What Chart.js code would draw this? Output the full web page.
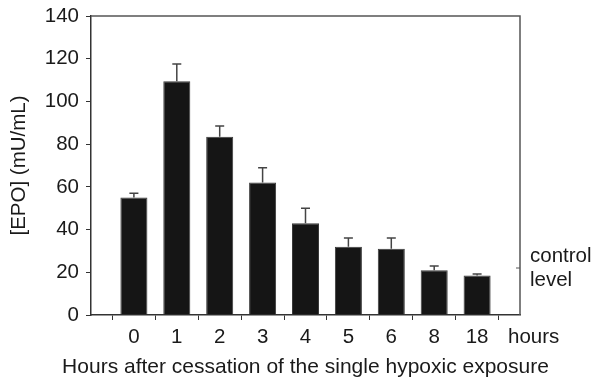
<!DOCTYPE html>
<html lang="en">
<head>
    <meta charset="UTF-8">
    <title>EPO after hypoxic exposure</title>
    <script src="https://cdn.jsdelivr.net/npm/chart.js@4"></script>
    <style>
        body {
            margin: 0;
            background-color: #fff;
        }
        #epoChart {
            display: block;
        }
    </style>
</head>
<body>
    <canvas id="epoChart" width="595" height="377"></canvas>

    <script>
        // values
        const hours = ['0', '1', '2', '3', '4', '5', '6', '8', '18'];
        const epoMean = [55, 109.5, 83.5, 62, 43, 32, 31, 21, 18.5];
        const epoError = [2, 8, 5, 7, 7, 4, 5, 2, 0.7];
        const controlLevel = 22;
        const yTicks = [0, 20, 40, 60, 80, 100, 120, 140];
        const xTitle = 'Hours after cessation of the single hypoxic exposure';

        const fontFamily = "'Liberation Sans', Arial, Helvetica, sans-serif";

        // empty slot at both ends so the bars sit on the ticks
        const labels = ['', ...hours, ''];
        const barData = [null, ...epoMean, null];
        const errData = [null, ...epoError, null];

        const errorBars = {
            id: 'errorBars',
            afterDatasetsDraw(chart) {
                const ctx = chart.ctx;
                const x = chart.scales.x;
                const y = chart.scales.y;
                ctx.save();
                ctx.strokeStyle = '#444';
                ctx.lineWidth = 1.5;
                barData.forEach((v, i) => {
                    if (v === null) return;
                    const px = x.getPixelForValue(i);
                    const top = y.getPixelForValue(v);
                    const hi = y.getPixelForValue(v + errData[i]);
                    ctx.beginPath();
                    ctx.moveTo(px, top);
                    ctx.lineTo(px, hi);
                    ctx.moveTo(px - 4.5, hi);
                    ctx.lineTo(px + 4.5, hi);
                    ctx.stroke();
                });
                ctx.restore();
            }
        };

        const frameAndNotes = {
            id: 'frameAndNotes',
            afterDraw(chart) {
                const ctx = chart.ctx;
                const a = chart.chartArea;
                const y = chart.scales.y;
                ctx.save();
                ctx.strokeStyle = '#555';
                ctx.lineWidth = 1.5;
                ctx.beginPath();
                ctx.moveTo(a.left, a.top);
                ctx.lineTo(a.right, a.top);
                ctx.lineTo(a.right, a.bottom);
                ctx.stroke();

                // control level mark on the right border
                const cy = y.getPixelForValue(controlLevel);
                ctx.lineWidth = 1;
                ctx.beginPath();
                ctx.moveTo(a.right - 4, cy);
                ctx.lineTo(a.right, cy);
                ctx.stroke();

                ctx.fillStyle = '#1a1a1a';
                ctx.font = '20.5px ' + fontFamily;
                ctx.textAlign = 'left';
                ctx.textBaseline = 'middle';
                ctx.fillText('control', a.right + 10, cy - 12);
                ctx.fillText('level', a.right + 10, cy + 12);
                ctx.fillText('hours', a.right - 12, a.bottom + 22);

                // x title drawn here so it is not squeezed to the axis width
                ctx.textAlign = 'center';
                ctx.font = '21px ' + fontFamily;
                ctx.fillText(xTitle, (a.left + a.right) / 2, a.bottom + 52);
                ctx.restore();
            }
        };

        const ctx = document.getElementById('epoChart').getContext('2d');
        new Chart(ctx, {
            type: 'bar',
            data: {
                labels: labels,
                datasets: [{
                    data: barData,
                    backgroundColor: '#151515',
                    borderColor: '#3a3a3a',
                    borderWidth: 1,
                    categoryPercentage: 1,
                    barPercentage: 0.63
                }]
            },
            options: {
                responsive: false,
                animation: false,
                layout: {
                    padding: { left: 0, right: 75, top: 16, bottom: 0 }
                },
                plugins: {
                    legend: { display: false },
                    tooltip: { enabled: false }
                },
                scales: {
                    x: {
                        offset: false,
                        grid: {
                            drawOnChartArea: false,
                            tickLength: 5,
                            color: '#333'
                        },
                        border: { color: '#333', width: 1.5 },
                        ticks: {
                            autoSkip: false,
                            maxRotation: 0,
                            padding: 5,
                            color: '#1a1a1a',
                            font: { family: fontFamily, size: 20.5 }
                        },
                        afterFit(scale) { scale.height = 62; }
                    },
                    y: {
                        min: 0,
                        max: 140,
                        afterBuildTicks(scale) {
                            scale.ticks = yTicks.map(v => ({ value: v }));
                        },
                        grid: {
                            drawOnChartArea: false,
                            tickLength: 5,
                            color: '#333'
                        },
                        border: { color: '#333', width: 1.5 },
                        ticks: {
                            padding: 7,
                            color: '#1a1a1a',
                            font: { family: fontFamily, size: 20.5 }
                        },
                        title: {
                            display: true,
                            text: '[EPO] (mU/mL)',
                            color: '#1a1a1a',
                            font: { family: fontFamily, size: 20.5 },
                            padding: { top: 7, bottom: 0 }
                        },
                        afterFit(scale) {
                            scale.width = 91;
                            scale.paddingTop = 0;
                            scale.paddingBottom = 0;
                        }
                    }
                }
            },
            plugins: [errorBars, frameAndNotes]
        });
    </script>
</body>
</html>
